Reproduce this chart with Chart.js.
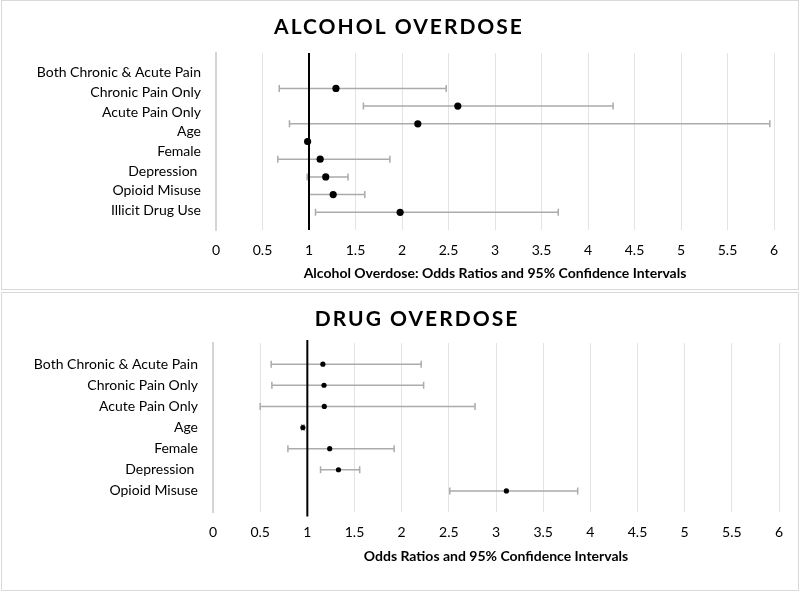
<!DOCTYPE html>
<html>
<head>
<meta charset="utf-8">
<script src="https://cdn.jsdelivr.net/npm/chart.js@4.4.1/dist/chart.umd.min.js"></script>
<style>
  html, body { margin: 0; padding: 0; background: #fff; }
  body { width: 800px; height: 592px; position: relative; overflow: hidden; }
  .painel { position: absolute; left: 1px; width: 796px; border: 1px solid #d9d9d9; }
  #p1 { top: 0; height: 288px; }
  #p2 { top: 292px; height: 297px; }
  canvas { display: block; }
</style>
</head>
<body>
<div class="painel" id="p1"><canvas id="grafico1" width="796" height="288"></canvas></div>
<div class="painel" id="p2"><canvas id="grafico2" width="796" height="297"></canvas></div>
<script>
// valores
const alcoolLabels = ['Both Chronic & Acute Pain', 'Chronic Pain Only', 'Acute Pain Only', 'Age', 'Female', 'Depression ', 'Opioid Misuse', 'Illicit Drug Use']
const alcoolOR = [1.29, 2.60, 2.17, 0.985, 1.12, 1.18, 1.26, 1.98]
const alcoolMin = [0.68, 1.585, 0.79, 0.98, 0.665, 0.98, 1.00, 1.07]
const alcoolMax = [2.475, 4.27, 5.955, 0.99, 1.87, 1.42, 1.60, 3.68]

const drogaLabels = ['Both Chronic & Acute Pain', 'Chronic Pain Only', 'Acute Pain Only', 'Age', 'Female', 'Depression ', 'Opioid Misuse']
const drogaOR = [1.165, 1.177, 1.18, 0.953, 1.237, 1.33, 3.11]
const drogaMin = [0.617, 0.624, 0.50, 0.94, 0.794, 1.14, 2.51]
const drogaMax = [2.207, 2.233, 2.778, 0.965, 1.92, 1.555, 3.866]

const ticksX = [0, 0.5, 1, 1.5, 2, 2.5, 3, 3.5, 4, 4.5, 5, 5.5, 6]

const fonte = 'Lato, "Liberation Sans", sans-serif'
Chart.defaults.font.family = fonte
Chart.defaults.color = '#000'

// barras de erro + linha de referencia em x = 1
const barrasErro = {
  id: 'barrasErro',
  beforeDatasetsDraw(chart, args, opts) {
    const { ctx, chartArea } = chart
    const x = chart.scales.x
    const yp = chart.scales.yp
    ctx.save()
    ctx.strokeStyle = '#ababab'
    ctx.lineWidth = 1.5
    opts.min.forEach((lo, i) => {
      const y = yp.getPixelForValue(i)
      const x1 = x.getPixelForValue(lo)
      const x2 = x.getPixelForValue(opts.max[i])
      ctx.beginPath()
      ctx.moveTo(x1, y); ctx.lineTo(x2, y)
      ctx.moveTo(x1, y - 3.5); ctx.lineTo(x1, y + 3.5)
      ctx.moveTo(x2, y - 3.5); ctx.lineTo(x2, y + 3.5)
      ctx.stroke()
    })
    const xr = x.getPixelForValue(opts.ref)
    ctx.strokeStyle = '#000'
    ctx.lineWidth = 2
    ctx.beginPath()
    ctx.moveTo(xr, chartArea.top - opts.extra[0])
    ctx.lineTo(xr, chartArea.bottom + opts.extra[1])
    ctx.stroke()
    ctx.restore()
  }
}

// titulo com espacamento entre letras
const titulo = {
  id: 'titulo',
  afterDraw(chart, args, opts) {
    const ctx = chart.ctx
    ctx.save()
    ctx.font = 'bold 21px ' + fonte
    ctx.letterSpacing = '2px'
    ctx.fillStyle = '#000'
    ctx.textAlign = 'center'
    ctx.textBaseline = 'middle'
    ctx.fillText(opts.texto, opts.x, opts.y)
    ctx.restore()
  }
}

const montaGrafico = (id, c) => {
  return new Chart(document.getElementById(id), {
    type: 'scatter',
    data: {
      datasets: [{
        data: c.or.map((v, i) => ({ x: v, y: i })),
        yAxisID: 'yp',
        backgroundColor: '#000',
        borderWidth: 0,
        pointRadius: c.raio,
        pointHoverRadius: c.raio
      }]
    },
    plugins: [barrasErro, titulo],
    options: {
      responsive: false,
      animation: false,
      events: [],
      layout: { padding: c.padding },
      plugins: {
        legend: { display: false },
        tooltip: { enabled: false },
        barrasErro: { min: c.min, max: c.max, ref: 1, extra: c.extra },
        titulo: { texto: c.titulo, x: c.tituloX, y: c.tituloY }
      },
      scales: {
        x: {
          type: 'linear',
          min: 0,
          max: 6,
          afterBuildTicks: s => { s.ticks = ticksX.map(v => ({ value: v })) },
          ticks: { padding: c.tickPad, font: { size: 14 }, callback: v => String(v) },
          grid: { color: '#e3e3e3', lineWidth: 1, drawTicks: false },
          border: { display: false },
          title: {
            display: true,
            text: c.tituloX2,
            font: { size: 14, weight: 'bold' },
            padding: { top: c.tp, bottom: c.tb }
          }
        },
        yl: {
          type: 'linear',
          position: 'left',
          reverse: true,
          min: -1,
          max: c.labels.length,
          afterBuildTicks: s => { s.ticks = c.labels.map((_, i) => ({ value: i })) },
          afterFit: s => { s.width = c.larguraY },
          ticks: { padding: 15, font: { size: 14 }, callback: v => c.labels[v] },
          grid: { display: false, drawTicks: false },
          border: { display: true, color: '#d4d4d4', width: 2 }
        },
        yp: {
          type: 'linear',
          display: false,
          reverse: true,
          min: c.ypMin,
          max: c.ypMax
        }
      }
    }
  })
}

montaGrafico('grafico1', {
  labels: alcoolLabels, or: alcoolOR, min: alcoolMin, max: alcoolMax,
  raio: 3.6, ypMin: -2, ypMax: 8,
  padding: { top: 52, right: 24, bottom: 0, left: 0 },
  larguraY: 214, tickPad: 12, tp: -6.2, tb: 7.6,
  extra: [0, 0],
  titulo: 'ALCOHOL OVERDOSE', tituloX: 397, tituloY: 26,
  tituloX2: 'Alcohol Overdose: Odds Ratios and 95% Confidence Intervals'
})

montaGrafico('grafico2', {
  labels: drogaLabels, or: drogaOR, min: drogaMin, max: drogaMax,
  raio: 2.6, ypMin: -1, ypMax: drogaLabels.length,
  padding: { top: 50, right: 19, bottom: 20, left: 0 },
  larguraY: 211, tickPad: 12.3, tp: -5.1, tb: 4.9,
  extra: [3, 4.5],
  titulo: 'DRUG OVERDOSE', tituloX: 415, tituloY: 26,
  tituloX2: 'Odds Ratios and 95% Confidence Intervals'
})
</script>
</body>
</html>
